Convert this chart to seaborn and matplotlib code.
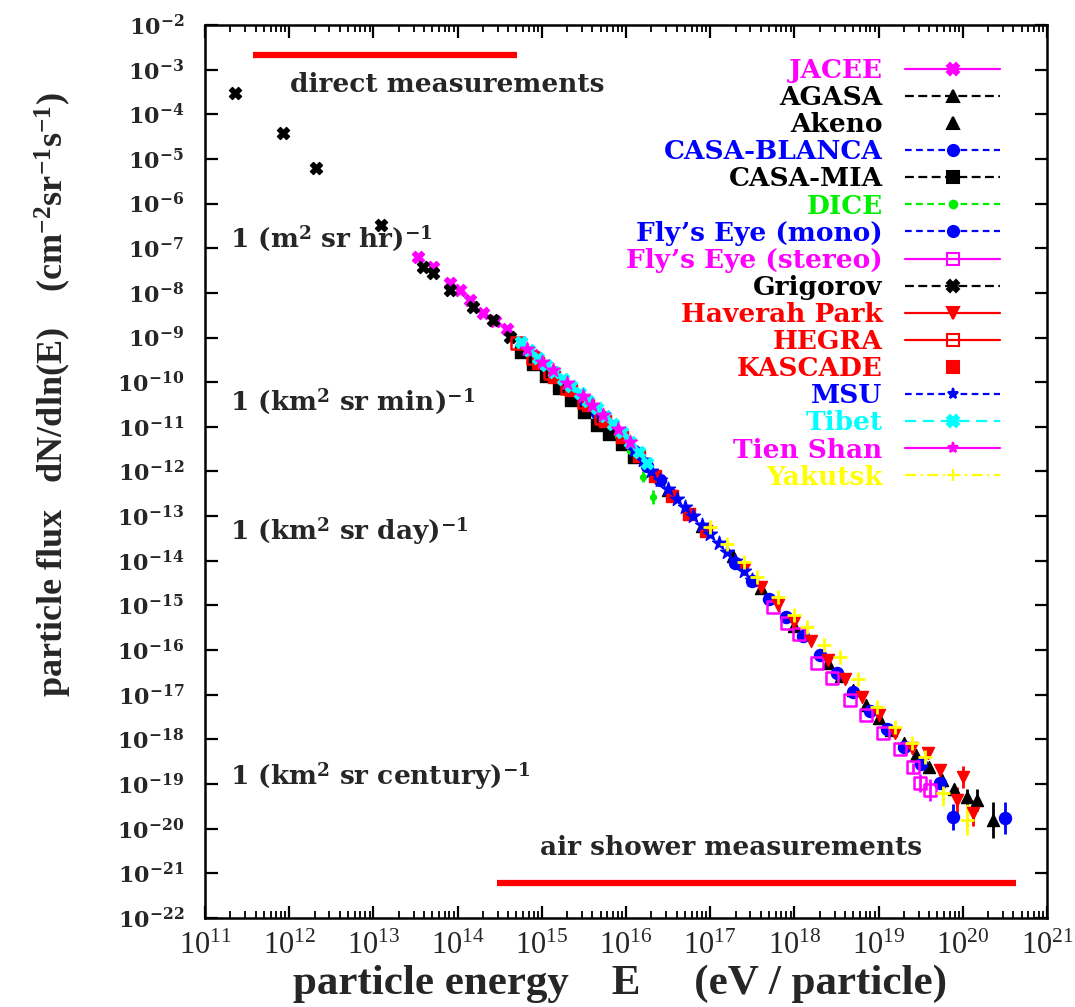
import numpy as np
import pandas as pd
import matplotlib
matplotlib.use("Agg")
import matplotlib.pyplot as plt
import seaborn as sns
from matplotlib.lines import Line2D
from matplotlib.ticker import FixedLocator, FuncFormatter, NullLocator
from matplotlib.font_manager import FontProperties

# ---------------- data (log10 energy [eV], log10 flux) ----------------
jacee_logE = [13.53, 13.71, 13.91, 14.03, 14.15, 14.30, 14.45, 14.59, 14.75, 14.90]
jacee_logF = [-7.20, -7.42, -7.78, -7.94, -8.17, -8.45, -8.64, -8.80, -9.10, -9.38]
jacee_err = [0, 0, 0, 0, 0, 0, 0, 0, 0, 0]

agasa_logE = [18.55, 18.70, 18.85, 19.00, 19.15, 19.30, 19.45, 19.60, 19.75, 19.90, 20.05, 20.17, 20.36]
agasa_logF = [-16.58, -16.90, -17.22, -17.52, -17.80, -18.08, -18.36, -18.62, -18.90, -19.12, -19.30, -19.36, -19.80]
agasa_err = [0, 0, 0, 0, 0, 0, 0, 0, 0.08, 0.12, 0.2, 0.25, 0.4]

akeno_logE = [14.90, 15.30, 15.70, 16.10, 16.50, 16.90, 17.27, 17.60, 18.00, 18.40]
akeno_logF = [-9.42, -10.06, -10.74, -11.52, -12.42, -13.22, -13.90, -14.62, -15.45, -16.30]
akeno_err = [0, 0, 0, 0, 0, 0, 0, 0, 0, 0]

casablanca_logE = [15.35, 15.50, 15.65, 15.80, 15.95, 16.10, 16.25, 16.40, 16.55]
casablanca_logF = [-10.18, -10.42, -10.68, -10.96, -11.24, -11.54, -11.88, -12.20, -12.52]
casablanca_err = [0, 0, 0, 0, 0, 0, 0, 0, 0]

casamia_logE = [14.75, 14.90, 15.05, 15.20, 15.35, 15.50, 15.65, 15.80, 15.95, 16.10]
casamia_logF = [-9.32, -9.60, -9.86, -10.12, -10.40, -10.66, -10.95, -11.15, -11.38, -11.68]
casamia_err = [0, 0, 0, 0, 0, 0, 0, 0, 0, 0]

dice_logE = [15.90, 16.05, 16.20, 16.32]
dice_logF = [-11.20, -11.55, -12.12, -12.57]
dice_err = [0.05, 0.08, 0.12, 0.15]

flysmono_logE = [17.30, 17.50, 17.70, 17.90, 18.10, 18.30, 18.50, 18.70, 18.90, 19.10, 19.30, 19.50, 19.73, 19.88, 20.50]
flysmono_logF = [-14.05, -14.45, -14.86, -15.26, -15.68, -16.10, -16.52, -16.94, -17.36, -17.76, -18.16, -18.54, -18.98, -19.74, -19.76]
flysmono_err = [0, 0, 0, 0, 0, 0, 0, 0, 0, 0, 0, 0.06, 0.1, 0.3, 0.35]

flysstereo_logE = [17.75, 17.91, 18.05, 18.27, 18.45, 18.66, 18.85, 19.05, 19.25, 19.41, 19.49, 19.61]
flysstereo_logF = [-15.03, -15.39, -15.65, -16.29, -16.62, -17.12, -17.45, -17.85, -18.22, -18.62, -18.98, -19.13]
flysstereo_err = [0, 0, 0, 0, 0, 0, 0, 0, 0.05, 0.1, 0.2, 0.25]

grigorov_logE = [11.36, 11.93, 12.32, 13.09, 13.59, 13.71, 13.91, 14.18, 14.42, 14.62]
grigorov_logF = [-3.52, -4.42, -5.20, -6.48, -7.42, -7.55, -7.93, -8.32, -8.61, -8.99]
grigorov_err = [0, 0, 0, 0, 0, 0, 0, 0, 0, 0]

haverah_logE = [17.40, 17.60, 17.80, 18.00, 18.20, 18.40, 18.60, 18.80, 19.00, 19.20, 19.40, 19.59, 19.73, 19.93, 20.00, 20.12]
haverah_logF = [-14.18, -14.58, -14.98, -15.38, -15.80, -16.22, -16.64, -17.05, -17.46, -17.85, -18.20, -18.30, -18.69, -19.36, -18.84, -19.65]
haverah_err = [0, 0, 0, 0, 0, 0, 0, 0, 0, 0, 0.05, 0.08, 0.12, 0.3, 0.25, 0.3]

hegra_logE = [14.70, 14.90, 15.10, 15.30, 15.50, 15.70]
hegra_logF = [-9.12, -9.46, -9.80, -10.12, -10.44, -10.80]
hegra_err = [0, 0, 0, 0, 0, 0]

kascade_logE = [14.95, 15.15, 15.35, 15.55, 15.75, 15.95, 16.15, 16.35, 16.55, 16.75, 16.95]
kascade_logF = [-9.56, -9.88, -10.18, -10.50, -10.86, -11.22, -11.66, -12.10, -12.55, -12.95, -13.34]
kascade_err = [0, 0, 0, 0, 0, 0, 0, 0, 0, 0, 0]

msu_logE = [16.10, 16.20, 16.30, 16.40, 16.50, 16.60, 16.70, 16.80, 16.90, 17.00, 17.10, 17.20, 17.30, 17.40, 17.50]
msu_logF = [-11.52, -11.74, -11.98, -12.18, -12.40, -12.62, -12.80, -13.00, -13.20, -13.40, -13.60, -13.80, -14.00, -14.22, -14.44]
msu_err = [0, 0, 0, 0, 0, 0, 0, 0, 0, 0, 0, 0, 0, 0, 0]

tibet_logE = [14.75, 14.85, 14.95, 15.05, 15.15, 15.25, 15.35, 15.45, 15.55, 15.65, 15.75, 15.85, 15.95, 16.05, 16.15, 16.25]
tibet_logF = [-9.10, -9.28, -9.45, -9.62, -9.78, -9.93, -10.08, -10.24, -10.41, -10.58, -10.76, -10.94, -11.12, -11.33, -11.56, -11.80]
tibet_err = [0] * 16

tienshan_logE = [14.82, 15.00, 15.13, 15.30, 15.49, 15.60, 15.73, 15.90, 16.05]
tienshan_logF = [-9.25, -9.55, -9.73, -10.02, -10.30, -10.50, -10.74, -11.05, -11.35]
tienshan_err = [0] * 9

yakutsk_logE = [17.00, 17.20, 17.40, 17.55, 17.80, 18.00, 18.15, 18.35, 18.54, 18.75, 18.98, 19.20, 19.40, 19.55, 19.76, 20.05]
yakutsk_logF = [-13.25, -13.62, -14.02, -14.36, -14.80, -15.22, -15.48, -15.88, -16.15, -16.65, -17.27, -17.72, -18.08, -18.40, -19.20, -19.80]
yakutsk_err = [0, 0, 0, 0, 0, 0, 0, 0, 0, 0, 0, 0, 0.05, 0.1, 0.3, 0.35]

experiments = ["JACEE", "AGASA", "Akeno", "CASA-BLANCA", "CASA-MIA", "DICE",
               "Fly\u2019s Eye (mono)", "Fly\u2019s Eye (stereo)", "Grigorov",
               "Haverah Park", "HEGRA", "KASCADE", "MSU", "Tibet", "Tien Shan", "Yakutsk"]
series = [
    (jacee_logE, jacee_logF, jacee_err),
    (agasa_logE, agasa_logF, agasa_err),
    (akeno_logE, akeno_logF, akeno_err),
    (casablanca_logE, casablanca_logF, casablanca_err),
    (casamia_logE, casamia_logF, casamia_err),
    (dice_logE, dice_logF, dice_err),
    (flysmono_logE, flysmono_logF, flysmono_err),
    (flysstereo_logE, flysstereo_logF, flysstereo_err),
    (grigorov_logE, grigorov_logF, grigorov_err),
    (haverah_logE, haverah_logF, haverah_err),
    (hegra_logE, hegra_logF, hegra_err),
    (kascade_logE, kascade_logF, kascade_err),
    (msu_logE, msu_logF, msu_err),
    (tibet_logE, tibet_logF, tibet_err),
    (tienshan_logE, tienshan_logF, tienshan_err),
    (yakutsk_logE, yakutsk_logF, yakutsk_err),
]

# reference bars (energy range, flux level)
direct_range = [3.7e11, 5.1e14]
direct_level = 2.1e-3
air_range = [2.9e14, 4.3e20]
air_level = 6.0e-22

x_tick_exps = list(range(11, 22))
y_tick_exps = list(range(-22, -1))

# ---------------- styles ----------------
MAG, BLK, BLU, GRN, RED, CYN, YEL = "#ff00ff", "#000000", "#0000ff", "#00ee00", "#ff0000", "#00ffff", "#ffff00"
styles = {
    "JACEE": dict(c=MAG, m="X", ls="-", open=False),
    "AGASA": dict(c=BLK, m="^", ls=(0, (4, 2)), open=False),
    "Akeno": dict(c=BLK, m="^", ls="none", open=False),
    "CASA-BLANCA": dict(c=BLU, m="o", ls=(0, (3, 2)), open=False),
    "CASA-MIA": dict(c=BLK, m="s", ls=(0, (4, 2)), open=False),
    "DICE": dict(c=GRN, m=".", ls=(0, (3, 2)), open=False),
    "Fly\u2019s Eye (mono)": dict(c=BLU, m="o", ls=(0, (3, 2)), open=False),
    "Fly\u2019s Eye (stereo)": dict(c=MAG, m="s", ls="-", open=True),
    "Grigorov": dict(c=BLK, m="X", ls=(0, (4, 2)), open=False),
    "Haverah Park": dict(c=RED, m="v", ls="-", open=False),
    "HEGRA": dict(c=RED, m="s", ls="-", open=True),
    "KASCADE": dict(c=RED, m="s", ls="none", open=False),
    "MSU": dict(c=BLU, m="*", ls=(0, (3, 2)), open=False),
    "Tibet": dict(c=CYN, m="X", ls=(0, (5, 3)), open=False),
    "Tien Shan": dict(c=MAG, m="*", ls="-", open=False),
    "Yakutsk": dict(c=YEL, m="+", ls=(0, (5, 2, 1, 2)), open=False),
}

sns.set_style("ticks")
plt.rcParams["font.family"] = ["DejaVu Serif"]
plt.rcParams["mathtext.fontset"] = "custom"
plt.rcParams["mathtext.rm"] = "Liberation Serif"
plt.rcParams["mathtext.bf"] = "DejaVu Serif:bold"
plt.rcParams["mathtext.sf"] = "Liberation Serif:bold"
plt.rcParams["mathtext.it"] = "Liberation Serif:bold"

TXT = "#262626"

fig = plt.figure(figsize=(10.75, 10.07), dpi=100)
ax = fig.add_axes([205 / 1075, 89 / 1007, 842 / 1075, 893 / 1007])
ax.set_xscale("log")
ax.set_yscale("log")

for name, (lE, lF, err) in zip(experiments, series):
    st = styles[name]
    E = 10 ** np.asarray(lE, dtype=float)
    F = 10 ** np.asarray(lF, dtype=float)
    er = np.asarray(err, dtype=float)
    df = pd.DataFrame({"E": E, "F": F})
    kw = dict(marker=st["m"], s=75, zorder=3)
    if st["open"]:
        kw.update(color=st["c"], facecolor="none", edgecolor=st["c"], linewidth=1.8)
    elif st["m"] == "+":
        kw.update(color=st["c"], linewidth=2.0, s=110)
    else:
        kw.update(color=st["c"], edgecolor=st["c"], linewidth=1.0)
        if st["m"] == ".":
            kw["s"] = 70
        if st["m"] == "*":
            kw["s"] = 110
    sns.scatterplot(data=df, x="E", y="F", ax=ax, legend=False, **kw)
    mask = er > 0
    if mask.any():
        lo = F[mask] - 10 ** (np.asarray(lF)[mask] - er[mask])
        hi = 10 ** (np.asarray(lF)[mask] + er[mask]) - F[mask]
        ax.errorbar(E[mask], F[mask], yerr=[lo, hi], fmt="none", ecolor=st["c"],
                    elinewidth=2.0, capsize=0, zorder=2)

# reference bars
ax.plot(direct_range, [direct_level, direct_level], color="red", lw=4.5, solid_capstyle="butt")
ax.plot(air_range, [air_level, air_level], color="red", lw=4.5, solid_capstyle="butt")

ax.set_xlim(1e11, 1e21)
ax.set_ylim(1e-22, 1e-2)

ax.xaxis.set_major_locator(FixedLocator([10.0 ** k for k in x_tick_exps]))
ax.yaxis.set_major_locator(FixedLocator([10.0 ** k for k in y_tick_exps]))
ax.xaxis.set_minor_locator(FixedLocator([m * 10.0 ** k for k in x_tick_exps[:-1] for m in range(2, 10)]))
ax.yaxis.set_minor_locator(NullLocator())
ax.xaxis.set_major_formatter(FuncFormatter(lambda v, p: r"$\mathrm{10^{%d}}$" % round(np.log10(v))))
ax.yaxis.set_major_formatter(FuncFormatter(lambda v, p: r"$\mathbf{10^{%d}}$" % round(np.log10(v))))

ax.tick_params(which="both", direction="in", top=True, right=True, colors="black")
ax.tick_params(which="major", length=9, width=1.6)
ax.tick_params(which="minor", length=5, width=1.3)
ax.tick_params(axis="y", which="major", labelsize=16, pad=15, labelcolor=TXT)
ax.tick_params(axis="x", which="major", labelsize=22, pad=9, labelcolor=TXT)
for sp in ax.spines.values():
    sp.set_linewidth(1.8)
    sp.set_color("black")

ax.set_xlabel("particle energy    E     (eV / particle)", fontsize=31,
              fontfamily="Liberation Serif", fontweight="bold", color=TXT)
ax.xaxis.set_label_coords(0.493, -0.052)
ax.set_ylabel(r"particle flux   dN/dln(E)    (cm$^{\mathsf{-2}}$sr$^{\mathsf{-1}}$s$^{\mathsf{-1}}$)",
              fontsize=26, fontfamily="Liberation Serif", fontweight="bold", color=TXT)
ax.yaxis.set_label_coords(-0.155, 0.586)

# annotations
afs = 19
ax.text(10 ** 12.01, 10 ** -3.34, "direct measurements", fontsize=afs, fontweight="bold",
        color=TXT, va="center", ha="left")
ax.text(10 ** 11.30, 10 ** -6.78, r"1 (m$^{\mathbf{2}}$ sr hr)$^{\mathbf{-1}}$", fontsize=afs,
        fontweight="bold", color=TXT, va="center", ha="left")
ax.text(10 ** 11.30, 10 ** -10.45, r"1 (km$^{\mathbf{2}}$ sr min)$^{\mathbf{-1}}$", fontsize=afs,
        fontweight="bold", color=TXT, va="center", ha="left")
ax.text(10 ** 11.30, 10 ** -13.36, r"1 (km$^{\mathbf{2}}$ sr day)$^{\mathbf{-1}}$", fontsize=afs,
        fontweight="bold", color=TXT, va="center", ha="left")
ax.text(10 ** 11.30, 10 ** -18.85, r"1 (km$^{\mathbf{2}}$ sr century)$^{\mathbf{-1}}$", fontsize=afs,
        fontweight="bold", color=TXT, va="center", ha="left")
ax.text(10 ** 14.98, 10 ** -20.43, "air shower measurements", fontsize=afs, fontweight="bold",
        color=TXT, va="center", ha="left")

# legend (gnuplot style: text right-aligned, sample on the right)
handles = []
for name in experiments:
    st = styles[name]
    h = Line2D([0], [0], color=st["c"], ls=st["ls"], lw=1.6, marker=st["m"],
               markersize=8 if st["m"] != "." else 11,
               markerfacecolor="none" if st["open"] else st["c"],
               markeredgecolor=st["c"], markeredgewidth=1.5)
    handles.append(h)
leg = ax.legend(handles, experiments, loc="upper right",
                bbox_to_anchor=(1000 / 1075, 1 - 58 / 1007), bbox_transform=fig.transFigure,
                frameon=False, markerfirst=False, borderpad=0, borderaxespad=0,
                handlelength=3.6, handletextpad=0.85, labelspacing=0.08,
                prop=FontProperties(family="DejaVu Serif", weight="bold", size=19))
for t, name in zip(leg.get_texts(), experiments):
    t.set_color(styles[name]["c"])

fig.savefig("out.png", dpi=100)
